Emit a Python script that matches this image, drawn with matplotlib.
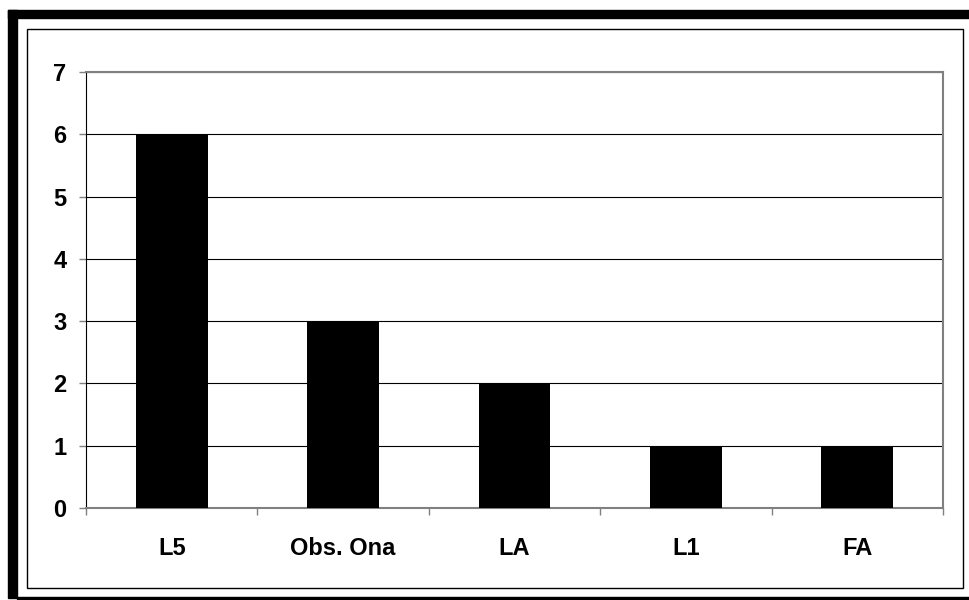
import matplotlib
matplotlib.use('Agg')
import matplotlib.pyplot as plt
from matplotlib.patches import Rectangle
import numpy as np

plt.rcParams['font.family'] = ['Liberation Sans', 'DejaVu Sans']

categories = ['L5', 'Obs. Ona', 'LA', 'L1', 'FA']
values = [6, 3, 2, 1, 1]
yticks = [0, 1, 2, 3, 4, 5, 6, 7]

W, H = 970, 600
fig = plt.figure(figsize=(W / 100, H / 100), dpi=100)

def fx(px):
    return px / W

def fy(py):
    return 1 - py / H

# outer frame: thick black top/left, thin bottom
fig.patches.append(Rectangle((fx(8), fy(18)), fx(970) - fx(8), fy(10) - fy(18),
                             transform=fig.transFigure, color='black', zorder=0))
fig.patches.append(Rectangle((fx(8), fy(598)), fx(17) - fx(8), fy(10) - fy(598),
                             transform=fig.transFigure, color='black', zorder=0))
fig.patches.append(Rectangle((fx(17), fy(599)), fx(970) - fx(17), fy(597) - fy(599),
                             transform=fig.transFigure, color='black', zorder=0))
# inner chart frame
fig.patches.append(Rectangle((fx(27), fy(588)), fx(963) - fx(27), fy(29) - fy(588),
                             transform=fig.transFigure, fill=False, edgecolor='black',
                             linewidth=1.0, zorder=0))

ax = fig.add_axes([fx(86), fy(508), fx(943) - fx(86), fy(72) - fy(508)])

x = np.arange(len(categories))
ax.bar(x, values, width=0.42, color='black', zorder=3)

ax.set_xlim(-0.5, len(categories) - 0.5)
ax.set_ylim(0, 7)
ax.set_yticks(yticks)
ax.set_yticklabels([str(t) for t in yticks], fontsize=17, fontweight='bold')
ax.yaxis.grid(True, color='black', linewidth=0.8, zorder=0)
ax.set_axisbelow(True)

# category labels between boundary ticks
ax.set_xticks(np.arange(-0.5, len(categories)), minor=False)
ax.set_xticklabels([''] * (len(categories) + 1))
ax.set_xticks(x, minor=True)
ax.set_xticklabels(categories, minor=True, fontsize=17, fontweight='bold')
ax.tick_params(axis='x', which='major', length=5, width=1, color='#808080')
ax.tick_params(axis='x', which='minor', length=0, pad=21)
ax.tick_params(axis='y', length=5, width=1, color='#808080', pad=9)

for s in ax.spines.values():
    s.set_color('#808080')
    s.set_linewidth(1.5)
ax.spines['left'].set_color('black')
ax.spines['left'].set_linewidth(0.8)

fig.savefig('out.png', dpi=100, facecolor='white')
